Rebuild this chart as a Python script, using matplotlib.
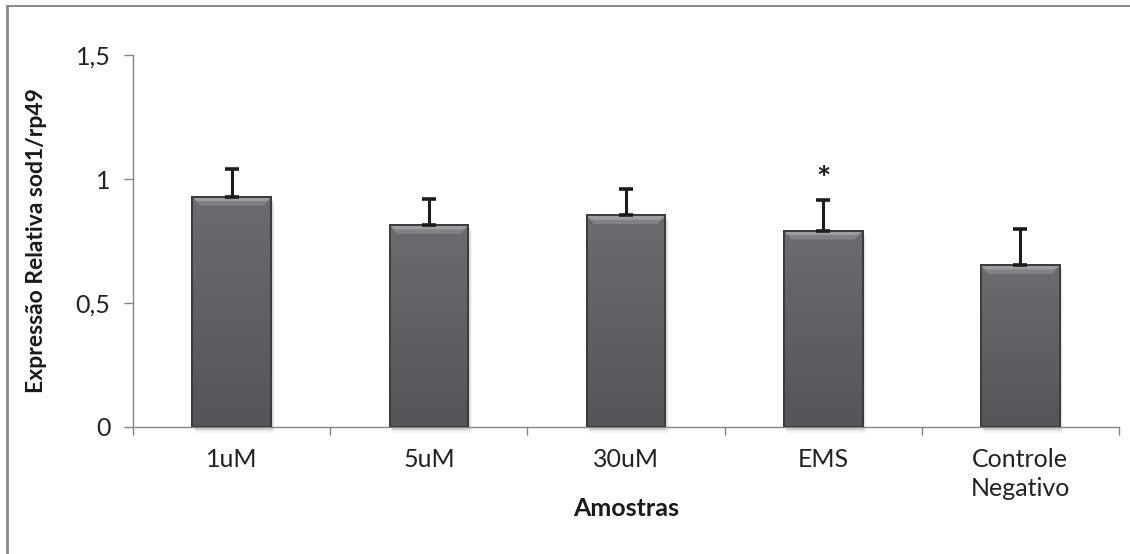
import matplotlib
matplotlib.use("Agg")
import matplotlib.pyplot as plt
import numpy as np
from matplotlib.patches import Polygon, Rectangle
from matplotlib.lines import Line2D

plt.rcParams['font.family'] = ['Lato', 'DejaVu Sans']

# Data
categories = ['1uM', '5uM', '30uM', 'EMS', 'Controle\nNegativo']
expression = [0.929, 0.815, 0.854, 0.792, 0.653]
error_up = [0.110, 0.106, 0.104, 0.125, 0.147]
significant = [False, False, False, True, False]
yticks = [0, 0.5, 1, 1.5]
ytick_labels = ['0', '0,5', '1', '1,5']

fig = plt.figure(figsize=(11.3, 5.54), dpi=100)
ax = fig.add_axes([0.118, 0.2298, 0.872, 0.6704])

x = np.arange(len(categories))
bar_w = 0.4
bar_face = '#5c5d61'

# soft drop shadow under each bar
for xi, v in zip(x, expression):
    for k, a in zip(range(1, 5), [0.10, 0.08, 0.06, 0.04]):
        dx = 0.004 * k
        dy = 0.006 * k
        ax.add_patch(Rectangle((xi - bar_w / 2 + dx, -dy), bar_w, v,
                               facecolor='#000000', alpha=a, edgecolor='none',
                               zorder=2, clip_on=False))

bars = ax.bar(x, expression, width=bar_w, color=bar_face,
              edgecolor='#3c3c3e', linewidth=1.2, zorder=3)

# vertical shading inside the bars
grad = np.linspace(1, 0, 256).reshape(-1, 1)
cmap = matplotlib.colors.LinearSegmentedColormap.from_list(
    'barshade', ['#545559', '#6b6c70'])
for b in bars:
    x0, y0 = b.get_x(), b.get_y()
    w, h = b.get_width(), b.get_height()
    im = ax.imshow(grad, extent=(x0, x0 + w, y0, y0 + h), aspect='auto',
                   cmap=cmap, origin='upper', zorder=3.1,
                   interpolation='bilinear')
    im.set_clip_path(b)
    # bevel highlight along the top edge
    bh = 0.036
    inset = 0.04
    ax.add_patch(Polygon([[x0, y0 + h], [x0 + w, y0 + h],
                          [x0 + w - inset, y0 + h - bh],
                          [x0 + inset, y0 + h - bh]],
                         closed=True, facecolor='#838488', edgecolor='none',
                         alpha=0.95, zorder=3.2))
    ax.add_patch(Polygon([[x0, y0 + h], [x0 + w, y0 + h],
                          [x0 + w - inset * 0.5, y0 + h - bh * 0.5],
                          [x0 + inset * 0.5, y0 + h - bh * 0.5]],
                         closed=True, facecolor='#a0a1a4', edgecolor='none',
                         alpha=0.9, zorder=3.3))
    # darker rim along the sides and base
    ax.add_patch(Rectangle((x0, y0), w, h, facecolor='none',
                           edgecolor='#3c3c3e', linewidth=1.4, zorder=3.4))

# positive error bars only
ax.errorbar(x, expression, yerr=[np.zeros(len(x)), error_up], fmt='none',
            ecolor='#1c1c1c', elinewidth=2.2, capsize=4.8, capthick=2.6,
            zorder=4)

for xi, v, e, s in zip(x, expression, error_up, significant):
    if s:
        ax.text(xi, v + e + 0.02, '*', ha='center', va='bottom',
                fontsize=24, color='#1c1c1c', fontweight='bold')

ax.set_xlim(-0.5, len(categories) - 0.5)
ax.set_ylim(0, 1.5)

ax.set_yticks(yticks)
ax.set_yticklabels(ytick_labels)
ax.set_xticks(x)
ax.set_xticklabels(categories, linespacing=1.35)
ax.set_xticks(np.arange(-0.5, len(categories)), minor=True)

ax.tick_params(axis='x', which='major', length=0, pad=15, labelsize=18,
               labelcolor='#222222')
ax.tick_params(axis='x', which='minor', length=6, width=1, color='#868686',
               direction='out')
ax.tick_params(axis='y', length=6.5, width=1, color='#868686', pad=10,
               labelsize=18, labelcolor='#222222')

for side in ['top', 'right']:
    ax.spines[side].set_visible(False)
for side in ['left', 'bottom']:
    ax.spines[side].set_color('#868686')
    ax.spines[side].set_linewidth(1.0)

ax.set_ylabel('Expressão Relativa sod1/rp49', fontsize=16.5, fontweight='bold',
              color='#1a1a1a')
ax.yaxis.set_label_coords(-0.088, 0.5)
ax.set_xlabel('Amostras', fontsize=18, fontweight='bold', color='#1a1a1a')
ax.xaxis.set_label_coords(0.5, -0.19)

# chart area border (top and left)
fig.add_artist(Line2D([7 / 1130, 1.0], [1 - 6 / 554, 1 - 6 / 554],
                      transform=fig.transFigure, color='#8a8a8a', lw=1.4))
fig.add_artist(Line2D([7 / 1130, 7 / 1130], [0, 1 - 6 / 554],
                      transform=fig.transFigure, color='#8a8a8a', lw=2.0))

fig.savefig('out.png', dpi=100)
